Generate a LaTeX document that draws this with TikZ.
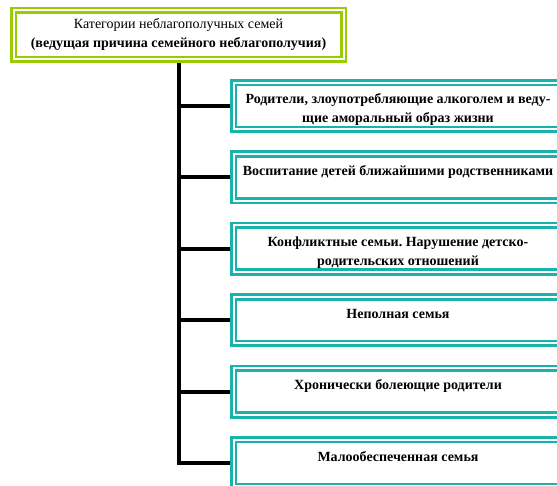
\documentclass[tikz,border=0pt]{standalone}
\usepackage{fontspec}
\setmainfont{Liberation Serif}
\usepackage{tikz}
\usetikzlibrary{positioning}
\frenchspacing
\definecolor{titlegreen}{HTML}{99CC00}
\definecolor{boxteal}{HTML}{1AB3AC}
\newcommand{\cat}[1]{% category text, top aligned
\begin{minipage}[c][46.6pt][t]{328.6pt}\vspace*{8pt}\centering\bfseries\strut #1\end{minipage}}
\tikzstyle{titlebox} =[
    draw=titlegreen,
    double=white,
    double distance=2pt,
    line width=2.5pt,
    outer sep=0pt,
    minimum width=330pt,
    minimum height=49pt,
    inner sep=0pt,
    align=center,
    font=\fontsize{14}{19}\selectfont
    ]
\tikzstyle{catbox} = [
    draw=boxteal,
    double=white,
    double distance=2pt,
    line width=2.7pt,
    outer sep=0pt,
    inner sep=0pt,
    font=\fontsize{14}{19}\selectfont
    ]
\tikzstyle{branch} = [
    line width=4pt,
    shorten >=3.7pt
    ]

\begin{document}
\begin{tikzpicture}[x=1pt,y=-1pt,node distance=24.8pt]
\useasboundingbox (0,0) rectangle (557,486);
\node [titlebox] (title) at (178.5,35) {Категории неблагополучных семей\\
    \textbf{(ведущая причина семейного неблагополучия)}};

\node [catbox, anchor=north west] (c1) at (233.7,82.7)
    {\cat{Родители, злоупотребляющие алкоголем и веду-\\щие аморальный образ жизни}};
\node [catbox, below=of c1] (c2) {\cat{Воспитание детей ближайшими родственниками}};
\node [catbox, below=of c2] (c3) {\cat{Конфликтные семьи. Нарушение детско-\\родительских отношений}};
\node [catbox, below=of c3] (c4) {\cat{Неполная семья}};
\node [catbox, below=of c4] (c5) {\cat{Хронически болеющие родители}};
\node [catbox, below=of c5] (c6) {\cat{Малообеспеченная семья}};

\draw [branch, shorten <=3.5pt] (title.south) |- (c6.west);
\foreach \i in {1,...,5}
    \draw [branch] (title.south |- c\i.west) -- (c\i.west);
\end{tikzpicture}
\end{document}
